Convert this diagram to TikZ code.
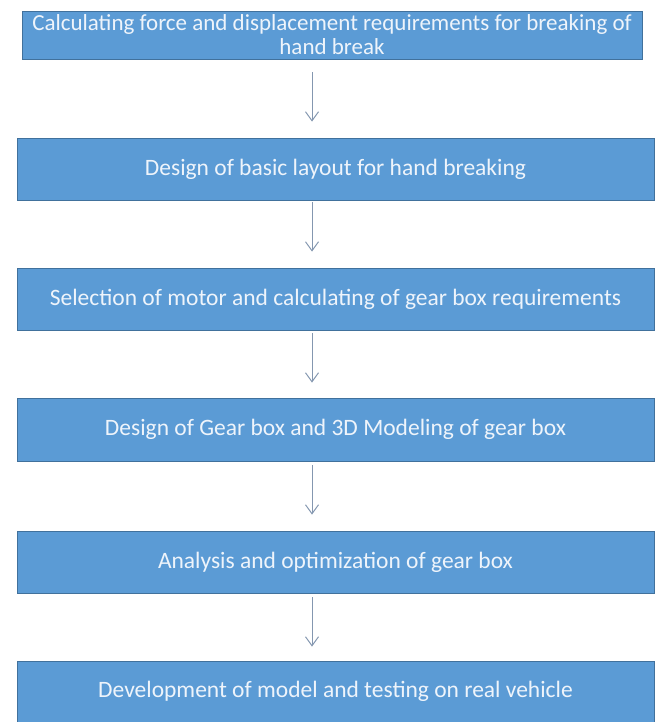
\documentclass[tikz,border=0pt]{standalone}
\usepackage{fontspec}
\setmainfont{Carlito}
\usetikzlibrary{arrows.meta}
\definecolor{boxfill}{HTML}{5B9BD5}
\definecolor{boxline}{HTML}{41719C}
\definecolor{boxtext}{HTML}{EEF4FB}
\definecolor{arrcol}{HTML}{8497B0}
\tikzset{
  stepbox/.style={draw=boxline, line width=0.8pt, fill=boxfill, text=boxtext, inner sep=0pt, align=center, font=\fontsize{23.5}{24}\selectfont},
  arr/.style={draw=arrcol, line width=1pt, -{Straight Barb[length=9pt,width=13pt]}}
}
\begin{document}
\begin{tikzpicture}[x=1pt,y=-1pt]
\useasboundingbox (0,0) rectangle (656,722);
\node[stepbox, minimum width=620pt, minimum height=48pt, font=\fontsize{23}{24}\selectfont] (b1) at (332,35) {Calculating force and displacement requirements for breaking of\\hand break};
\node[stepbox, minimum width=637pt, minimum height=62pt] (b2) at (335.5,169) {Design of basic layout for hand breaking};
\node[stepbox, minimum width=637pt, minimum height=62pt] (b3) at (335.5,299) {Selection of motor and calculating of gear box requirements};
\node[stepbox, minimum width=637pt, minimum height=63pt] (b4) at (335.5,429.5) {Design of Gear box and 3D Modeling of gear box};
\node[stepbox, minimum width=637pt, minimum height=62pt] (b5) at (335.5,562) {Analysis and optimization of gear box};
\node[stepbox, minimum width=637pt, minimum height=61pt] (b6) at (335.5,691.5) {Development of model and testing on real vehicle};
\coordinate (ax) at (312,0);
\draw[arr, shorten <=13pt, shorten >=16pt] (b1.south -| ax) -- (b2.north -| ax);
\draw[arr, shorten <=2pt, shorten >=16pt] (b2.south -| ax) -- (b3.north -| ax);
\draw[arr, shorten <=3pt, shorten >=15pt] (b3.south -| ax) -- (b4.north -| ax);
\draw[arr, shorten <=4pt, shorten >=16pt] (b4.south -| ax) -- (b5.north -| ax);
\draw[arr, shorten <=4pt, shorten >=14pt] (b5.south -| ax) -- (b6.north -| ax);
\end{tikzpicture}
\end{document}
